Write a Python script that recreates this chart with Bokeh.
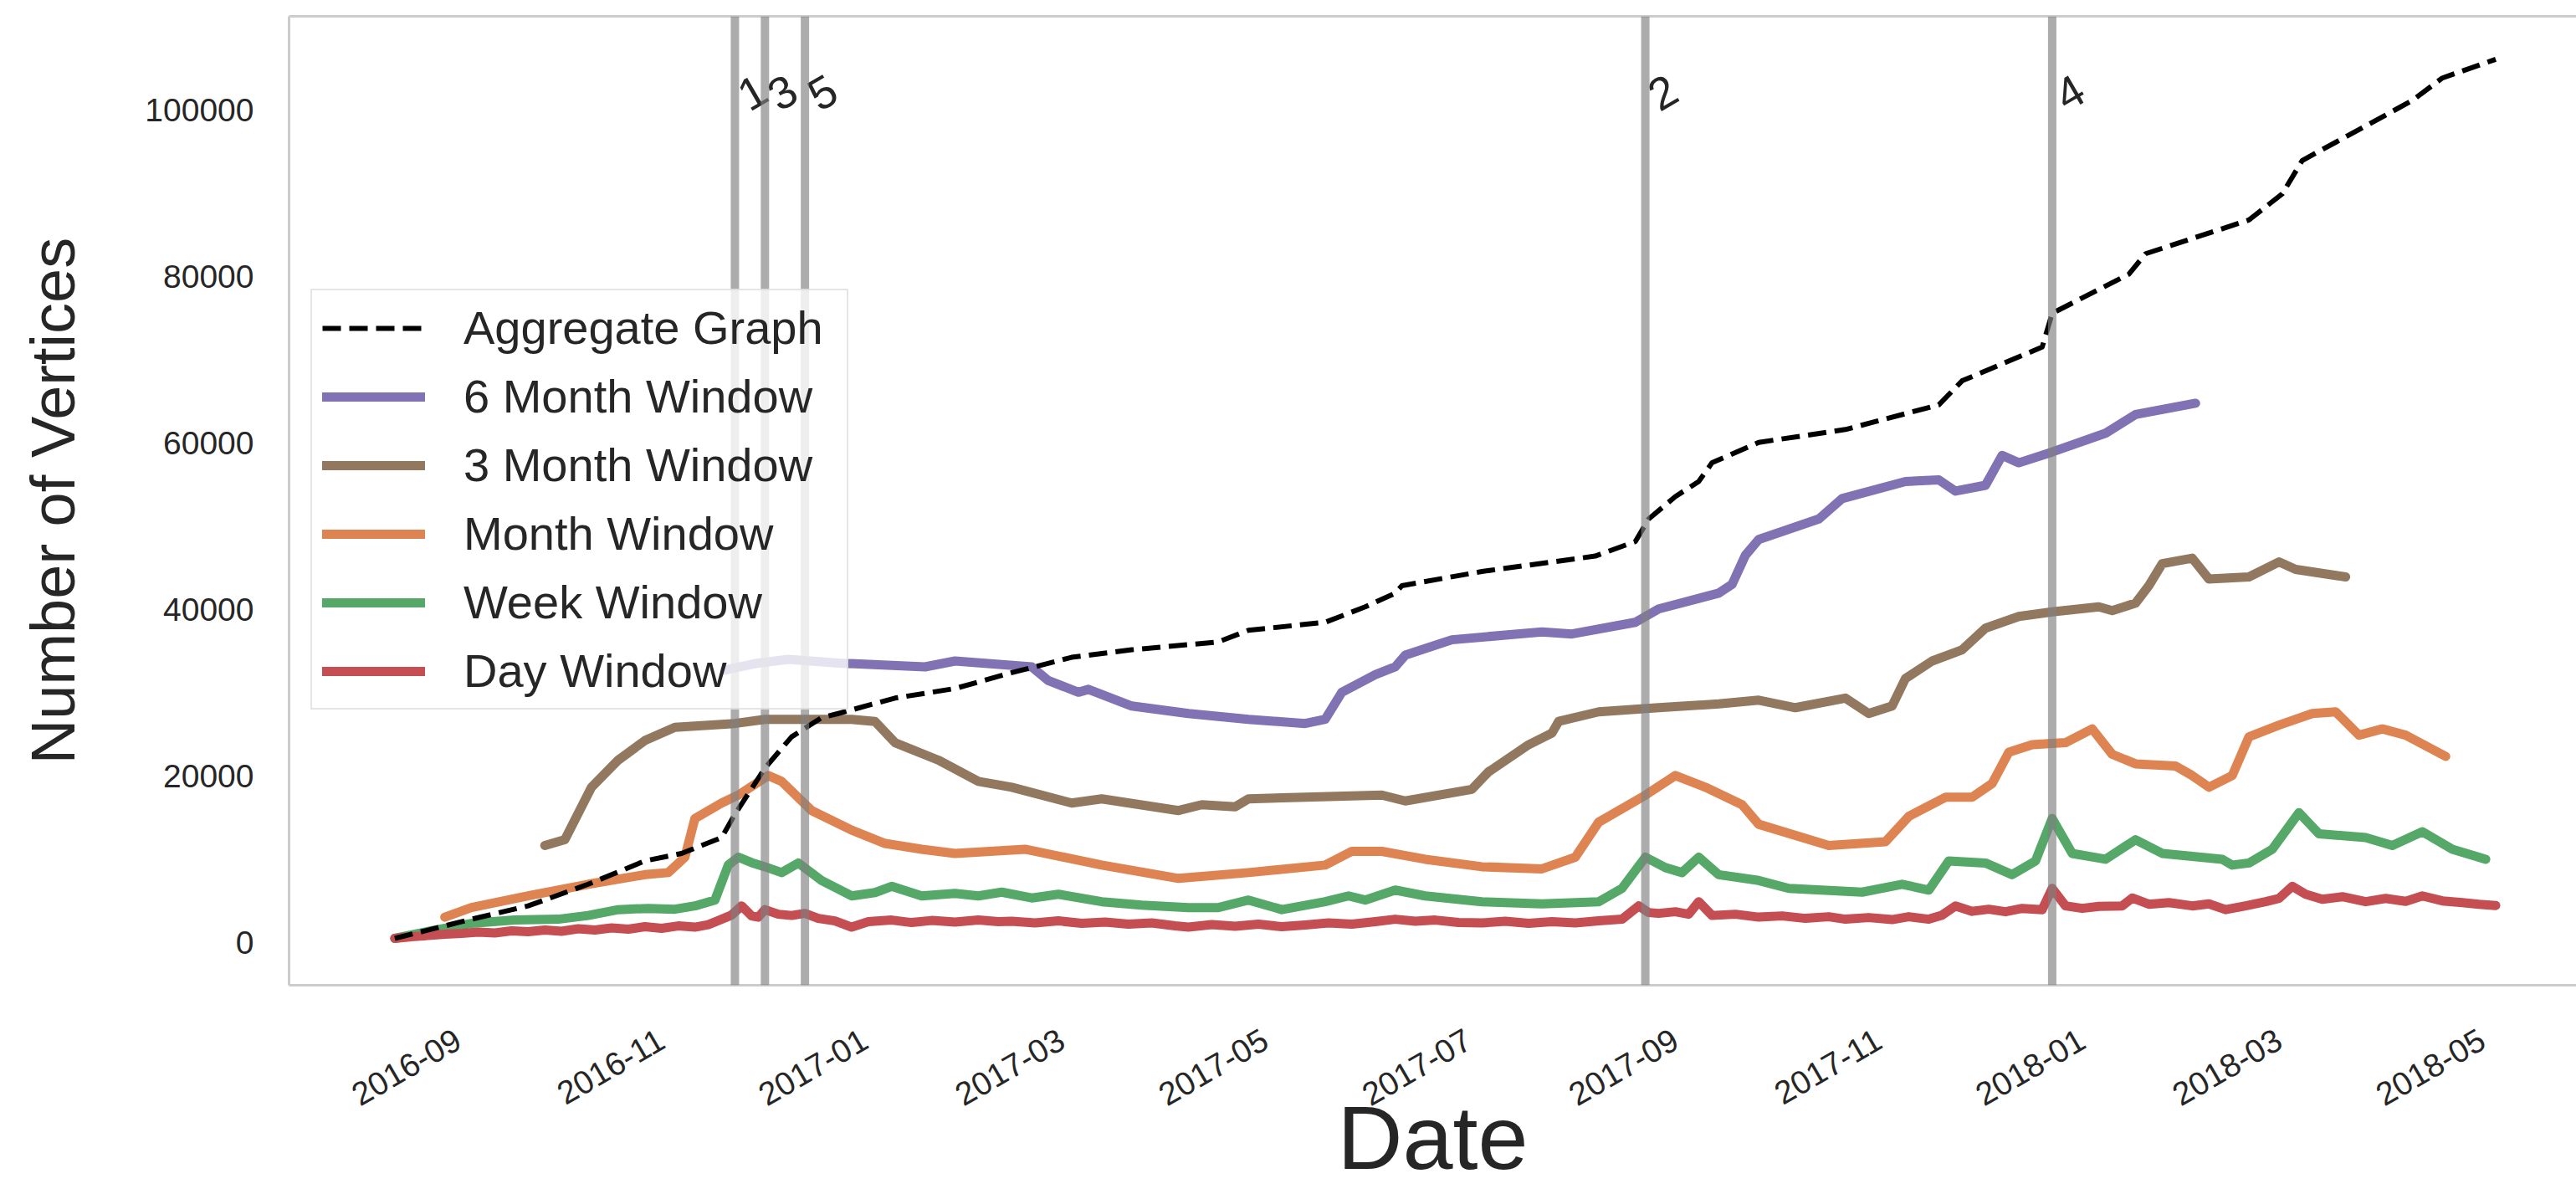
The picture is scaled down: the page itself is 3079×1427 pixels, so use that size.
import math
import pandas as pd
from bokeh.plotting import figure
from bokeh.models import (Range1d, FixedTicker, DatetimeTickFormatter, LinearAxis,
                          Legend, LegendItem, Span, NumeralTickFormatter)
from bokeh.core.properties import value
from bokeh.embed import file_html
from bokeh.resources import INLINE

FONT = "Liberation Sans"
TXT = "#262626"

# ---------------- data ----------------
x_tick_labels = ["2016-09", "2016-11", "2017-01", "2017-03", "2017-05", "2017-07",
                 "2017-09", "2017-11", "2018-01", "2018-03", "2018-05"]
y_ticks = [0, 20000, 40000, 60000, 80000, 100000]

agg_dates = ["2016-08-13", "2016-09-05", "2016-09-22", "2016-10-10", "2016-10-27", "2016-11-07",
             "2016-11-19", "2016-11-23", "2016-12-02", "2016-12-10", "2016-12-19", "2016-12-24",
             "2017-01-10", "2017-01-28", "2017-02-14", "2017-03-04", "2017-03-22", "2017-04-17",
             "2017-04-26", "2017-05-19", "2017-05-31", "2017-06-09", "2017-06-11", "2017-07-05",
             "2017-08-08", "2017-08-20", "2017-08-24", "2017-09-01", "2017-09-08", "2017-09-12",
             "2017-09-26", "2017-10-22", "2017-11-19", "2017-11-26", "2017-12-20", "2017-12-23",
             "2018-01-15", "2018-01-20", "2018-02-20", "2018-03-02", "2018-03-08", "2018-04-10",
             "2018-04-19", "2018-05-05"]
agg_vals = [500, 2800, 4400, 7000, 9800, 10700, 12600, 15400, 20950, 24700, 27000, 27500,
            29350, 30500, 32400, 34250, 35150, 36100, 37500, 38450, 40300, 41950, 42850, 44550,
            46400, 48150, 50850, 53550, 55350, 57600, 60050, 61600, 64550, 67450, 71500, 75550,
            80250, 82700, 86750, 89900, 93900, 101100, 103800, 106050]

m6_dates = ["2016-11-20", "2016-11-29", "2016-12-09", "2016-12-24", "2017-01-19", "2017-01-28",
            "2017-02-20", "2017-02-25", "2017-03-06", "2017-03-09", "2017-03-22", "2017-04-08",
            "2017-04-26", "2017-05-13", "2017-05-19", "2017-05-24", "2017-06-03", "2017-06-09",
            "2017-06-12", "2017-06-26", "2017-07-23", "2017-08-01", "2017-08-20", "2017-08-27",
            "2017-09-14", "2017-09-18", "2017-09-22", "2017-09-26", "2017-10-14", "2017-10-21",
            "2017-11-09", "2017-11-19", "2017-11-24", "2017-12-03", "2017-12-08", "2017-12-13",
            "2017-12-23", "2018-01-08", "2018-01-17", "2018-02-04"]
m6_vals = [32700, 33500, 34000, 33550, 33100, 33800, 33100, 31450, 30050, 30400, 28400, 27500,
           26800, 26300, 26800, 30050, 32150, 33100, 34500, 36350, 37300, 37050, 38450, 40050,
           41950, 43000, 46500, 48400, 50850, 53300, 55350, 55550, 54200, 54900, 58500, 57600,
           58900, 61150, 63400, 64750]

m3_dates = ["2016-09-27", "2016-10-03", "2016-10-11", "2016-10-19", "2016-10-27", "2016-11-05",
            "2016-11-23", "2016-12-02", "2016-12-28", "2017-01-04", "2017-01-10", "2017-01-23",
            "2017-02-04", "2017-02-14", "2017-03-04", "2017-03-13", "2017-04-05", "2017-04-12",
            "2017-04-22", "2017-04-26", "2017-05-13", "2017-06-05", "2017-06-12", "2017-07-02",
            "2017-07-07", "2017-07-19", "2017-07-26", "2017-07-28", "2017-08-09", "2017-08-27",
            "2017-09-14", "2017-09-26", "2017-10-07", "2017-10-22", "2017-10-29", "2017-11-05",
            "2017-11-09", "2017-11-17", "2017-11-26", "2017-12-03", "2017-12-13", "2017-12-23",
            "2018-01-06", "2018-01-10", "2018-01-17", "2018-01-21", "2018-01-25", "2018-02-03",
            "2018-02-08", "2018-02-20", "2018-03-01", "2018-03-06", "2018-03-21"]
m3_vals = [11650, 12350, 18650, 21900, 24250, 25850, 26300, 26800, 26800, 26550, 24000, 21900,
           19350, 18650, 16750, 17250, 15850, 16550, 16300, 17250, 17450, 17700, 17000, 18400,
           20500, 23750, 25150, 26550, 27700, 28200, 28650, 29100, 28200, 29350, 27500, 28400,
           31700, 33800, 35150, 37750, 39150, 39700, 40300, 39850, 40750, 42850, 45500, 46150,
           43650, 43900, 45700, 44800, 43900]

month_dates = ["2016-08-28", "2016-09-05", "2016-09-22", "2016-10-10", "2016-10-27", "2016-11-03",
               "2016-11-08", "2016-11-11", "2016-11-19", "2016-11-24", "2016-12-03", "2016-12-07",
               "2016-12-16", "2016-12-28", "2017-01-07", "2017-01-18", "2017-01-28", "2017-02-18",
               "2017-03-13", "2017-04-05", "2017-04-26", "2017-05-19", "2017-05-27", "2017-06-05",
               "2017-06-18", "2017-07-05", "2017-07-23", "2017-08-02", "2017-08-09", "2017-08-22",
               "2017-09-01", "2017-09-10", "2017-09-21", "2017-09-26", "2017-10-17", "2017-11-03",
               "2017-11-10", "2017-11-21", "2017-11-29", "2017-12-05", "2017-12-10", "2017-12-17",
               "2017-12-27", "2018-01-04", "2018-01-10", "2018-01-17", "2018-01-29", "2018-02-03",
               "2018-02-08", "2018-02-15", "2018-02-20", "2018-03-01", "2018-03-11", "2018-03-18",
               "2018-03-25", "2018-04-01", "2018-04-08", "2018-04-20"]
month_vals = [3050, 4200, 5600, 7000, 8150, 8400, 10250, 14900, 16750, 17700, 20050, 19350,
              15850, 13500, 11900, 11200, 10700, 11200, 9300, 7700, 8400, 9300, 10950, 10950,
              10000, 9100, 8850, 10250, 14450, 17450, 20050, 18650, 16550, 14200, 11650, 12100,
              15150, 17450, 17450, 19100, 22850, 23750, 24000, 25650, 22600, 21450, 21200, 20050,
              18650, 20050, 24700, 26100, 27500, 27700, 24900, 25650, 24900, 22350]

week_dates = ["2016-08-13", "2016-08-25", "2016-09-05", "2016-09-18", "2016-10-01", "2016-10-10",
              "2016-10-19", "2016-10-28", "2016-11-05", "2016-11-11", "2016-11-17", "2016-11-21",
              "2016-11-24", "2016-11-28", "2016-12-02", "2016-12-07", "2016-12-12", "2016-12-19",
              "2016-12-28", "2017-01-04", "2017-01-09", "2017-01-18", "2017-01-28", "2017-02-04",
              "2017-02-11", "2017-02-20", "2017-02-28", "2017-03-13", "2017-03-25", "2017-04-08",
              "2017-04-17", "2017-04-26", "2017-05-06", "2017-05-19", "2017-05-26", "2017-05-31",
              "2017-06-09", "2017-06-18", "2017-07-05", "2017-07-23", "2017-08-09", "2017-08-16",
              "2017-08-23", "2017-08-29", "2017-09-03", "2017-09-08", "2017-09-14", "2017-09-26",
              "2017-10-05", "2017-10-27", "2017-11-08", "2017-11-16", "2017-11-22", "2017-12-03",
              "2017-12-11", "2017-12-18", "2017-12-23", "2017-12-29", "2018-01-08", "2018-01-17",
              "2018-01-25", "2018-02-12", "2018-02-15", "2018-02-20", "2018-02-27", "2018-03-07",
              "2018-03-13", "2018-03-27", "2018-04-04", "2018-04-13", "2018-04-22", "2018-05-02"]
week_vals = [500, 1500, 2300, 2700, 2800, 3250, 3950, 4100, 4000, 4400, 5100, 9300,
             10250, 9600, 9100, 8400, 9550, 7450, 5600, 6000, 6750, 5600, 5900, 5600,
             6050, 5350, 5800, 4900, 4500, 4200, 4200, 5100, 3950, 4900, 5600, 5100,
             6300, 5600, 4900, 4650, 4900, 6500, 10250, 9000, 8400, 10250, 8150, 7450,
             6500, 6050, 7000, 6300, 9800, 9550, 8150, 9800, 14900, 10700, 10000, 12350,
             10700, 10000, 9300, 9550, 11200, 15600, 13050, 12600, 11650, 13300, 11200, 10000]

day_dates = ["2016-08-13", "2016-08-18", "2016-08-23", "2016-08-28", "2016-09-02", "2016-09-07",
             "2016-09-12", "2016-09-17", "2016-09-22", "2016-09-27", "2016-10-02", "2016-10-07",
             "2016-10-12", "2016-10-17", "2016-10-22", "2016-10-27", "2016-11-01", "2016-11-06",
             "2016-11-11", "2016-11-15", "2016-11-19", "2016-11-22", "2016-11-25", "2016-11-28",
             "2016-11-30", "2016-12-02", "2016-12-06", "2016-12-10", "2016-12-14", "2016-12-18",
             "2016-12-23", "2016-12-28", "2017-01-02", "2017-01-09", "2017-01-15", "2017-01-21",
             "2017-01-28", "2017-02-04", "2017-02-10", "2017-02-14", "2017-02-21", "2017-02-28",
             "2017-03-07", "2017-03-14", "2017-03-21", "2017-03-28", "2017-04-04", "2017-04-08",
             "2017-04-15", "2017-04-22", "2017-04-29", "2017-05-06", "2017-05-13", "2017-05-20",
             "2017-05-27", "2017-06-03", "2017-06-09", "2017-06-15", "2017-06-21", "2017-06-28",
             "2017-07-05", "2017-07-12", "2017-07-19", "2017-07-26", "2017-08-02", "2017-08-09",
             "2017-08-16", "2017-08-21", "2017-08-24", "2017-08-27", "2017-09-01", "2017-09-05",
             "2017-09-08", "2017-09-12", "2017-09-19", "2017-09-26", "2017-10-03", "2017-10-10",
             "2017-10-17", "2017-10-22", "2017-10-29", "2017-11-05", "2017-11-10", "2017-11-16",
             "2017-11-20", "2017-11-24", "2017-11-29", "2017-12-04", "2017-12-09", "2017-12-14",
             "2017-12-20", "2017-12-23", "2017-12-27", "2018-01-01", "2018-01-06", "2018-01-13",
             "2018-01-16", "2018-01-21", "2018-01-27", "2018-02-03", "2018-02-08", "2018-02-13",
             "2018-02-19", "2018-02-25", "2018-03-01", "2018-03-05", "2018-03-09", "2018-03-14",
             "2018-03-20", "2018-03-27", "2018-04-02", "2018-04-08", "2018-04-13", "2018-04-19",
             "2018-04-25", "2018-04-30", "2018-05-05"]
day_vals = [500, 700, 850, 1000, 1100, 1250, 1150, 1400, 1300, 1500, 1350, 1650,
            1500, 1750, 1600, 1900, 1700, 2000, 1850, 2150, 2800, 3300, 4400, 3200,
            3050, 3950, 3400, 3250, 3500, 2900, 2600, 1850, 2500, 2700, 2400, 2650,
            2450, 2700, 2500, 2550, 2350, 2600, 2300, 2450, 2200, 2350, 2000, 1850,
            2150, 1950, 2200, 1900, 2100, 2350, 2200, 2500, 2800, 2550, 2700, 2400,
            2350, 2550, 2300, 2500, 2350, 2600, 2800, 4400, 3600, 3500, 3700, 3400,
            4900, 3250, 3400, 3050, 3200, 2900, 3100, 2800, 3000, 2750, 3100, 2800,
            3300, 4400, 3750, 4000, 3700, 4100, 3950, 6500, 4400, 4100, 4350, 4400,
            5350, 4600, 4800, 4400, 4650, 3950, 4400, 4900, 5300, 6750, 5800, 5200,
            5500, 4900, 5300, 4950, 5600, 5000, 4800, 4600, 4450]

event_dates = ["2016-11-23", "2017-08-23", "2016-12-02", "2017-12-23", "2016-12-14"]
event_labels = ["1", "2", "3", "4", "5"]
event_label_y = 101300

# ---------------- helpers ----------------
def ts(lst):
    return pd.to_datetime(lst)

def ms(t):
    return pd.Timestamp(t).value / 1e6

origin = pd.Timestamp("2016-09-01")
x_start = origin - pd.Timedelta(days=50.7)
x_end = origin + pd.Timedelta(days=635.2)

p = figure(width=3079, height=1427, x_axis_type="datetime",
           output_backend="svg", toolbar_location=None,
           x_range=Range1d(x_start, x_end), y_range=Range1d(-5126, 111206),
           min_border_left=345, min_border_right=0, min_border_top=19,
           min_border_bottom=250)
p.outline_line_color = None
p.xgrid.visible = False
p.ygrid.visible = False
p.background_fill_color = "white"
p.border_fill_color = "white"

# axes
for ax in (p.xaxis[0], p.yaxis[0]):
    ax.axis_line_color = "#cccccc"
    ax.axis_line_width = 3
    ax.major_tick_line_color = None
    ax.minor_tick_line_color = None
    ax.major_tick_out = 0
    ax.major_tick_in = 0
    ax.major_label_text_font = FONT
    ax.major_label_text_font_size = "39px"
    ax.major_label_text_color = TXT
    ax.axis_label_text_font = FONT
    ax.axis_label_text_font_style = "normal"
    ax.axis_label_text_color = TXT

p.xaxis.ticker = FixedTicker(ticks=[ms(t) for t in ts(x_tick_labels)])
fmt = "%Y-%m"
p.xaxis.formatter = DatetimeTickFormatter(microseconds=fmt, milliseconds=fmt, seconds=fmt,
                                          minsec=fmt, minutes=fmt, hourmin=fmt, hours=fmt,
                                          days=fmt, months=fmt, years=fmt)
p.xaxis.major_label_orientation = math.pi / 6
p.xaxis.major_label_standoff = 62
p.xaxis.axis_label = "Date"
p.xaxis.axis_label_text_font_size = "108px"
p.xaxis.axis_label_standoff = -38

p.yaxis.ticker = FixedTicker(ticks=y_ticks)
p.yaxis.formatter = NumeralTickFormatter(format="0")
p.yaxis.major_label_standoff = 42
p.yaxis.axis_label = "Number of Vertices"
p.yaxis.axis_label_text_font_size = "74px"
p.yaxis.axis_label_standoff = 65

top_axis = LinearAxis(ticker=FixedTicker(ticks=[]), axis_line_color="#cccccc",
                      axis_line_width=3, major_tick_line_color=None,
                      minor_tick_line_color=None, major_tick_out=0, major_tick_in=0,
                      major_label_text_font_size="0px")
p.add_layout(top_axis, "above")

# series
colors = {"6m": "#8172B3", "3m": "#937860", "month": "#DD8452",
          "week": "#55A868", "day": "#C44E52"}
lw = 11
r6 = p.line(ts(m6_dates), m6_vals, line_color=colors["6m"], line_width=lw,
            line_cap="round", line_join="round")
r3 = p.line(ts(m3_dates), m3_vals, line_color=colors["3m"], line_width=lw,
            line_cap="round", line_join="round")
rm = p.line(ts(month_dates), month_vals, line_color=colors["month"], line_width=lw,
            line_cap="round", line_join="round")
rw = p.line(ts(week_dates), week_vals, line_color=colors["week"], line_width=lw,
            line_cap="round", line_join="round")
rd = p.line(ts(day_dates), day_vals, line_color=colors["day"], line_width=lw,
            line_cap="round", line_join="round")
ra = p.line(ts(agg_dates), agg_vals, line_color="black", line_width=6,
            line_dash="22 10", line_join="round")

# event markers
for d in event_dates:
    p.add_layout(Span(location=ms(d), dimension="height", line_color="#808080",
                      line_alpha=0.65, line_width=10))
p.text(x=ts(event_dates), y=[event_label_y] * len(event_dates), text=event_labels,
       angle=math.pi / 6, x_offset=8, text_align="left", text_baseline="alphabetic",
       text_font=value(FONT), text_font_size="54px", text_color=TXT)

legend = Legend(items=[LegendItem(label="Aggregate Graph", renderers=[ra]),
                       LegendItem(label="6 Month Window", renderers=[r6]),
                       LegendItem(label="3 Month Window", renderers=[r3]),
                       LegendItem(label="Month Window", renderers=[rm]),
                       LegendItem(label="Week Window", renderers=[rw]),
                       LegendItem(label="Day Window", renderers=[rd])],
                location=(26, 329), margin=0, padding=12, spacing=17,
                glyph_width=123, glyph_height=44, label_height=44, label_width=446,
                label_standoff=46, label_text_font=FONT, label_text_font_size="56px",
                label_text_color=TXT, border_line_color="#cccccc", border_line_width=2,
                background_fill_color="white", background_fill_alpha=0.8)
p.add_layout(legend)

open("out.html", "w").write(file_html(p, INLINE))
